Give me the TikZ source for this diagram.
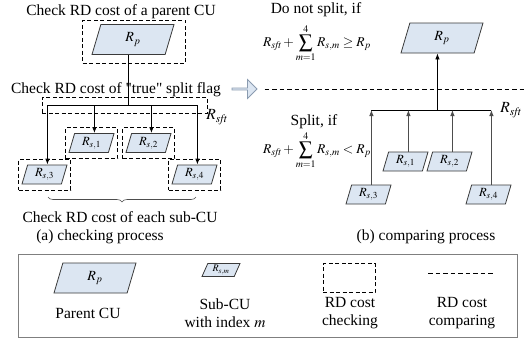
\documentclass[tikz,border=0pt]{standalone}
\usepackage{mathptmx}
\usepackage[no-math]{fontspec}
\setmainfont{Liberation Serif}[Ligatures=TeXOff]
\usetikzlibrary{arrows.meta, shapes.geometric, shapes.arrows, decorations.pathreplacing, calc}
\definecolor{cufill}{HTML}{DCE6F2}
\definecolor{cuedge}{HTML}{3A3A3A}
\definecolor{flowedge}{HTML}{8A9BB0}
\definecolor{legedge}{HTML}{7F7F7F}
\definecolor{treeline}{HTML}{4D4D4D}
\newcommand{\rsft}{R_{\mathit{sft}}}

\begin{document}
\begin{tikzpicture}[x=1pt, y=-1pt,
  font=\fontsize{15.5}{18}\selectfont,
  cu/.style={trapezium, trapezium left angle=56.3, trapezium right angle=123.7,
             trapezium stretches body, draw=cuedge, fill=cufill, line width=0.8pt,
             minimum width=82pt, minimum height=30pt, inner sep=0pt,
             font=\fontsize{14}{14}\selectfont},
  subcu/.style={cu, trapezium left angle=64.6, trapezium right angle=115.4,
             minimum width=45pt, minimum height=19pt, font=\fontsize{12.5}{12.5}\selectfont},
  chk/.style 2 args={rectangle, draw, dash pattern=on 4pt off 2.5pt, line width=0.8pt,
             minimum width=#1, minimum height=#2, inner sep=0pt},
  arr/.style={line width=0.8pt, -{Latex[length=6pt, width=4.5pt]}},
  cmpline/.style={line width=0.8pt, dash pattern=on 4.5pt off 3pt},
  txt/.style={inner sep=0pt, align=center},
  cond/.style={txt, font=\fontsize{13.5}{15}\selectfont},
]
\useasboundingbox (0,0) rectangle (525,341);
% ---- (a) checking: parent CU, split flag, four sub-CUs
\node[txt] (cap_parent) at (121,12) {Check RD cost of a parent CU};
\node[cu] (cu_a) at (133,39.5) {$R_p$};
\node[chk={103}{43}] (chk_parent) at (134,41.5) {};
\node[txt] (cap_flag) at (116,90) {Check RD cost of "true" split flag};
\node[chk={165}{16}] (chk_flag) at (124.5,105) {};
\node[txt] (rsft_a) at (217,117) {$\rsft$};
\node[subcu] (sub_a1) at (91.5,143) {$R_{s,1}$};
\node[subcu] (sub_a2) at (148.5,143) {$R_{s,2}$};
\node[subcu] (sub_a3) at (44.5,174.5) {$R_{s,3}$};
\node[subcu] (sub_a4) at (194.5,174.5) {$R_{s,4}$};
\foreach \i in {1,...,4} {
  \node[chk={52}{31}] (chk_a\i) at (sub_a\i) {};
  \coordinate (top_a\i) at ($(sub_a\i.top left corner)!.5!(sub_a\i.top right corner)$);
}
\coordinate (bar_a) at (0,105);
\coordinate (cu_a_b) at ($(cu_a.bottom left corner)!.5!(cu_a.bottom right corner)$);
\draw[line width=1.6pt] (cu_a_b) -- (cu_a_b |- bar_a);
\draw[line width=0.8pt] (top_a3 |- bar_a) -- (top_a4 |- bar_a);
\foreach \i in {1,...,4}
  \draw[arr] (top_a\i |- bar_a) -- (top_a\i);
\coordinate (brace_l) at (48,197);
\coordinate (brace_r) at (196,197);
\draw[draw=treeline, line width=0.6pt, decorate,
      decoration={brace, mirror, amplitude=5pt}] (brace_l) -- (brace_r);
\node[txt] (cap_subs) at (120,217) {Check RD cost of each sub-CU};
\node[txt] (cap_a) at (100,237) {(a) checking process};
% ---- hand-over arrow and comparing line
\node[single arrow, draw=flowedge, fill=cufill, line width=0.8pt, minimum height=25pt,
      minimum width=19pt, single arrow head extend=3.5pt, single arrow tip angle=90,
      inner sep=0pt] (flow) at (244,89) {};
\coordinate (cmp_l) at ($(flow.tip)+(7,0)$);
\coordinate (cmp_r) at (525,89);
\draw[cmpline] (cmp_l) -- (cmp_r);
% ---- (b) comparing: split conditions and the tree upwards
\node[txt] (cap_keep) at (316,10) {Do not split, if};
\node[cond] (cond_keep) at (317,43) {$\rsft+\displaystyle\sum_{m=1}^{4}R_{s,m}\ge R_p$};
\node[txt] (cap_split) at (314,122) {Split, if};
\node[cond] (cond_split) at (317,150) {$\rsft+\displaystyle\sum_{m=1}^{4}R_{s,m}< R_p$};
\node[cu] (cu_b) at (442,38) {$R_p$};
\node[subcu] (sub_b1) at (405.5,161.5) {$R_{s,1}$};
\node[subcu] (sub_b2) at (449.5,161.5) {$R_{s,2}$};
\node[subcu] (sub_b3) at (368.5,194.5) {$R_{s,3}$};
\node[subcu] (sub_b4) at (488.5,194.5) {$R_{s,4}$};
\foreach \i in {1,...,4}
  \coordinate (top_b\i) at ($(sub_b\i.top left corner)!.5!(sub_b\i.top right corner)$);
\coordinate (bar_b) at (0,110);
\coordinate (cu_b_b) at ($(cu_b.bottom left corner)!.5!(cu_b.bottom right corner)$);
\draw[arr] (cu_b_b |- bar_b) -- (cu_b_b);
\draw[line width=0.8pt] (top_b3 |- bar_b) -- (top_b4 |- bar_b);
\foreach \i in {1,...,4}
  \draw[arr, draw=treeline] (top_b\i) -- (top_b\i |- bar_b);
\node[txt] (rsft_b) at (511,110) {$\rsft$};
\node[txt] (cap_b) at (426,237) {(b) comparing process};
% ---- legend
\node[draw=legedge, line width=0.8pt, minimum width=499, minimum height=83,
      inner sep=0pt] (legend) at (267.5,295.5) {};
\node[cu] (leg_cu) at (95,278) {$R_p$};
\node[txt] (leg_cu_txt) at (88,313) {Parent CU};
\node[subcu, trapezium left angle=58.4, trapezium right angle=121.6,
      minimum width=38pt, minimum height=13pt, font=\fontsize{10}{10}\selectfont]
      (leg_sub) at (221,270) {$R_{s,m}$};
\node[txt] (leg_sub_txt) at (225,313) {Sub-CU\\with index $m$};
\node[chk={52}{29}] (leg_chk) at (349,278) {};
\node[txt] (leg_chk_txt) at (350,313) {RD cost\\checking};
\coordinate (leg_cmp_l) at (428,273);
\coordinate (leg_cmp_r) at (493,273);
\draw[cmpline] (leg_cmp_l) -- (leg_cmp_r);
\node[txt] (leg_cmp_txt) at (462,313) {RD cost\\comparing};
\end{tikzpicture}
\end{document}
